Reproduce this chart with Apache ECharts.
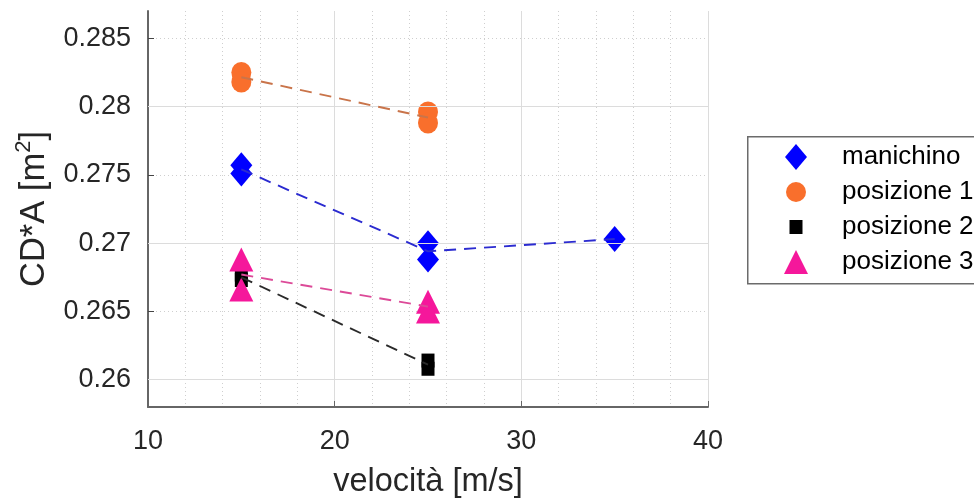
<!DOCTYPE html>
<html>
<head>
<meta charset="utf-8">
<script src="https://cdn.jsdelivr.net/npm/echarts@6/dist/echarts.min.js"></script>
<style>
html,body{margin:0;padding:0;background:#fff;}
#main{width:974px;height:501px;}
</style>
</head>
<body>
<div id="main"></div>
<script>
// ---- data ----
const seriesNames = ['manichino', 'posizione 1', 'posizione 2', 'posizione 3'];

const manichinoX = [15, 15, 25, 25, 35];
const manichinoY = [0.2757, 0.2751, 0.2700, 0.2688, 0.2703];
const pos1X = [15, 15, 25, 25];
const pos1Y = [0.2825, 0.2818, 0.2796, 0.2788];
const pos2X = [15, 15, 25, 25];
const pos2Y = [0.2677, 0.2673, 0.2614, 0.2608];
const pos3X = [15, 15, 25, 25];
const pos3Y = [0.2688, 0.2666, 0.2657, 0.2650];

// dashed trend lines (through mean values)
const manichinoLineX = [15, 25, 35];
const manichinoLineY = [0.2754, 0.2694, 0.2703];
const pos1LineX = [15, 25];
const pos1LineY = [0.28215, 0.2792];
const pos2LineX = [15, 25];
const pos2LineY = [0.2675, 0.2611];
const pos3LineX = [15, 25];
const pos3LineY = [0.2677, 0.26535];

// tick labels
const xTicks = [10, 20, 30, 40];
const yTicks = [0.26, 0.265, 0.27, 0.275, 0.28, 0.285];
const xMin = 10, xMax = 40;
const yMin = 0.258, yMax = 0.287;

// ---- build chart ----
const zip = (xs, ys) => xs.map((x, i) => [x, ys[i]]);
const FONT = 'Liberation Sans, Arial, sans-serif';
const TXT = '#262626';

const markerCfg = [
  {symbol: 'diamond', size: [22, 26], color: '#0000ff', line: '#2b2bd0'},
  {symbol: 'circle', size: [20, 21], color: '#f96f2c', line: '#c9744a'},
  {symbol: 'rect', size: [13, 14], color: '#000000', line: '#2a2a2a'},
  {symbol: 'triangle', size: [24, 24], color: '#f5179b', line: '#dc4a98'}
];

const pts = [zip(manichinoX, manichinoY), zip(pos1X, pos1Y), zip(pos2X, pos2Y), zip(pos3X, pos3Y)];
const lines = [zip(manichinoLineX, manichinoLineY), zip(pos1LineX, pos1LineY), zip(pos2LineX, pos2LineY), zip(pos3LineX, pos3LineY)];

const series = [];
// major horizontal grid lines via markLine on a helper series
series.push({
  type: 'line', data: [], silent: true, z: 0,
  markLine: {
    silent: true, symbol: ['none', 'none'], label: {show: false},
    lineStyle: {color: '#dcdcdc', type: 'solid', width: 1},
    animation: false,
    data: yTicks.map(v => ({yAxis: v}))
  }
});
pts.forEach((d, i) => {
  series.push({
    name: seriesNames[i], type: 'scatter', data: d,
    symbol: markerCfg[i].symbol, symbolSize: markerCfg[i].size,
    itemStyle: {color: markerCfg[i].color, opacity: 1}, z: 3 + i
  });
});
lines.forEach((d, i) => {
  series.push({
    type: 'line', data: d, symbol: 'none', z: 10,
    lineStyle: {color: markerCfg[i].line, width: 1.9, type: [12, 8]},
    silent: true
  });
});

const rowY = [157, 192, 227, 262];
const legends = seriesNames.map((n, i) => {
  const w = markerCfg[i].size[0], h = markerCfg[i].size[1];
  return {
    data: [n], orient: 'vertical', left: 796 - w / 2, top: rowY[i] - 15,
    itemWidth: w, itemHeight: h, padding: 0, selectedMode: false,
    textStyle: {fontSize: 26, fontFamily: FONT, color: '#000', lineHeight: 30,
      padding: [0, 0, 0, 41 - w / 2]}
  };
});

const option = {
  animation: false,
  backgroundColor: '#fff',
  grid: {left: 148, right: 266, top: 11, bottom: 94, containLabel: false, outerBoundsMode: 'none'},
  graphic: [{
    type: 'rect', left: 747, top: 136, z: -1, silent: true,
    shape: {width: 260, height: 147},
    style: {fill: '#fff', stroke: '#6b6b6b', lineWidth: 1.5}
  }],
  legend: legends,
  xAxis: {
    type: 'value', min: xMin, max: xMax, interval: 10,
    name: 'velocità [m/s]', nameLocation: 'middle', nameGap: 59,
    nameTextStyle: {fontSize: 32.5, fontFamily: FONT, color: TXT},
    axisLine: {show: true, onZero: false, lineStyle: {color: '#666', width: 2}},
    axisTick: {show: true, inside: true, length: 6, lineStyle: {color: '#666'}},
    axisLabel: {fontSize: 27, fontFamily: FONT, color: TXT, margin: 21,
      customValues: xTicks},
    splitLine: {show: true, lineStyle: {color: '#dcdcdc', width: 1}},
    minorTick: {show: false, splitNumber: 5},
    minorSplitLine: {show: true, lineStyle: {color: '#cfcfcf', type: [1, 3], width: 1}}
  },
  yAxis: {
    type: 'value', min: yMin, max: yMax, interval: 0.001,
    name: '{n|CD*A [m}{s|2}{n|]}', nameLocation: 'middle', nameGap: 96,
    nameTextStyle: {fontSize: 34.5, fontFamily: FONT, color: TXT,
      rich: {
        n: {fontSize: 34.5, fontFamily: FONT, color: TXT, verticalAlign: 'bottom', lineHeight: 39},
        s: {fontSize: 22, fontFamily: FONT, color: TXT, verticalAlign: 'top', lineHeight: 39}
      }},
    axisLine: {show: true, onZero: false, lineStyle: {color: '#666', width: 2}},
    axisTick: {show: true, inside: true, length: 6, lineStyle: {color: '#444'},
      customValues: yTicks},
    axisLabel: {fontSize: 27, fontFamily: FONT, color: TXT, margin: 17,
      customValues: yTicks, formatter: v => String(+v.toFixed(3))},
    splitLine: {show: true, lineStyle: {color: '#cfcfcf', type: [1, 3], width: 1}}
  },
  series: series
};

const chart = echarts.init(document.getElementById('main'), null, {renderer: 'canvas'});
chart.setOption(option);
</script>
</body>
</html>
